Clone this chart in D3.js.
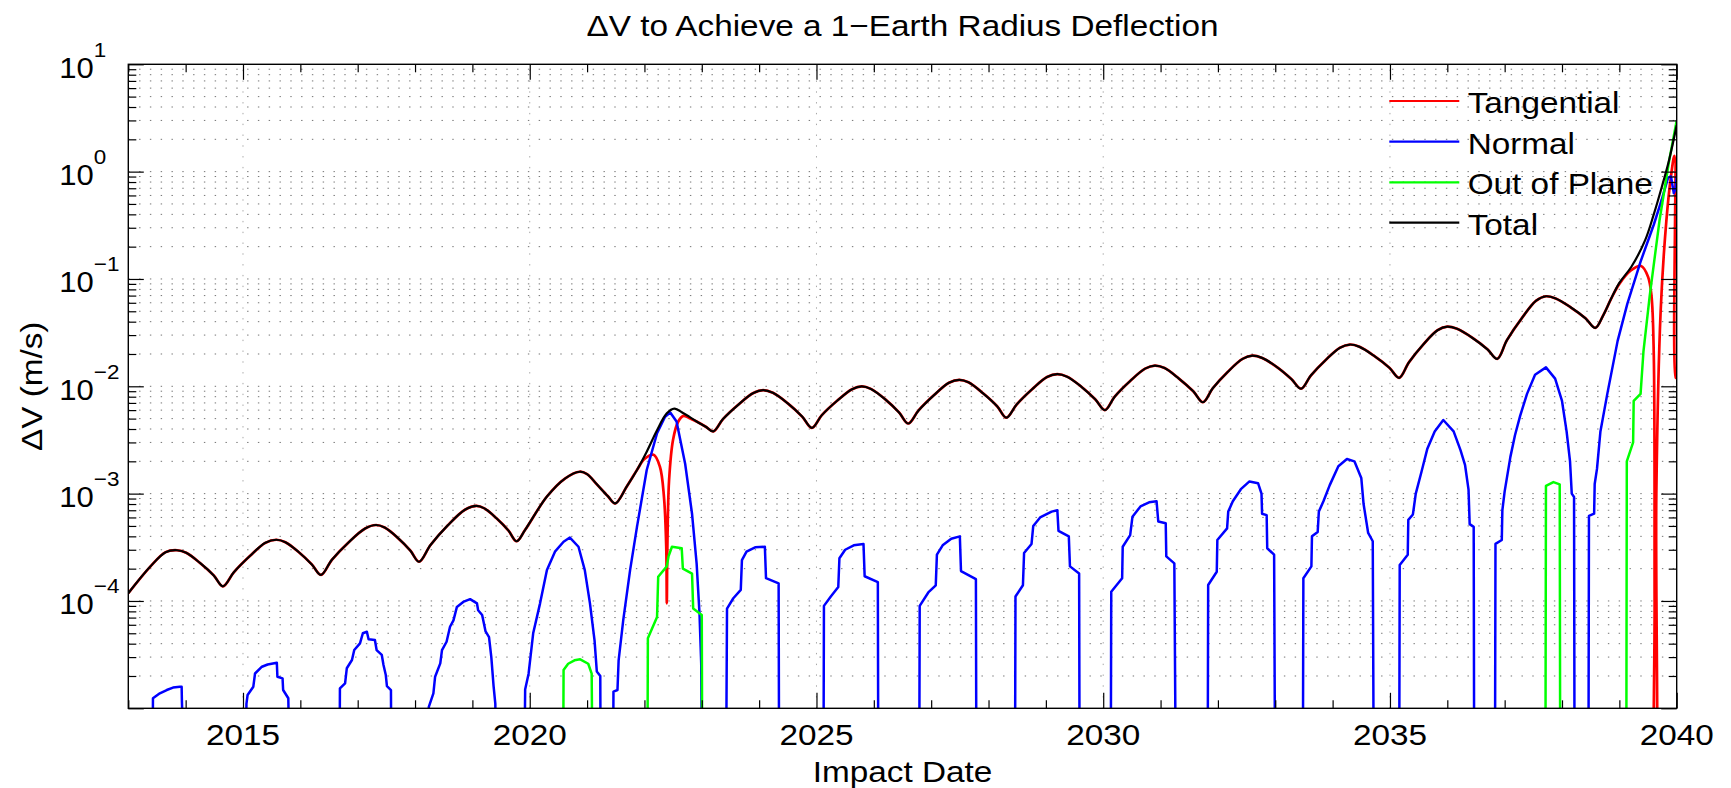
<!doctype html>
<html>
<head>
<meta charset="utf-8">
<script src="https://cdn.jsdelivr.net/npm/d3@7"></script>
<style>
  body { margin: 0; background: #fff; }
  svg text { font-family: "Liberation Sans", Arial, Helvetica, sans-serif; fill: #000; }
  .grid line { stroke: #000; stroke-opacity: .55; stroke-width: 1; stroke-dasharray: 1.4 9.4; }
  .ticks path { display: none; }
  .ticks line { stroke: #000; stroke-width: 1.2; }
  .series { fill: none; stroke-linejoin: round; }
</style>
</head>
<body>
<svg id="chart"></svg>
<script>

// ---- data: [year, dV (m/s)] ----
const totalPts = [
  [2013.0,1.18e-4],[2013.38,2.08e-4],[2013.65,2.85e-4],[2013.85,2.97e-4],
  [2014.01,2.81e-4],[2014.25,2.26e-4],[2014.49,1.73e-4],[2014.65,1.37e-4],
  [2014.84,1.85e-4],[2015.12,2.62e-4],[2015.39,3.48e-4],[2015.58,3.72e-4],
  [2015.74,3.53e-4],[2015.97,2.86e-4],[2016.2,2.19e-4],[2016.36,1.75e-4],
  [2016.55,2.42e-4],[2016.84,3.51e-4],[2017.13,4.73e-4],[2017.32,5.1e-4],
  [2017.47,4.83e-4],[2017.7,3.87e-4],[2017.92,2.94e-4],[2018.07,2.32e-4],
  [2018.27,3.32e-4],[2018.57,5.06e-4],[2018.87,7.08e-4],[2019.07,7.7e-4],
  [2019.21,7.29e-4],[2019.42,5.89e-4],[2019.63,4.52e-4],[2019.77,3.6e-4],
  [2019.92,4.6e-4],[2020.3,9.4e-4],[2020.62,1.39e-3],[2020.87,1.6e-3],
  [2021.0,1.52e-3],[2021.17,1.22e-3],[2021.36,9.5e-4],[2021.49,8.1e-4],
  [2021.69,1.16e-3],[2021.87,1.66e-3],[2022.04,2.46e-3],[2022.22,3.9e-3],[2022.39,5.6e-3],[2022.52,6.2e-3],
  [2022.68,5.6e-3],[2022.91,4.7e-3],[2023.07,4.2e-3],[2023.2,3.8e-3],
  [2023.37,4.95e-3],[2023.64,6.76e-3],[2023.9,8.65e-3],[2024.07,9.2e-3],
  [2024.24,8.69e-3],[2024.5,6.93e-3],[2024.75,5.22e-3],[2024.92,4.1e-3],
  [2025.09,5.36e-3],[2025.36,7.33e-3],[2025.62,9.4e-3],[2025.79,1.0e-2],
  [2025.95,9.46e-3],[2026.2,7.56e-3],[2026.44,5.71e-3],[2026.6,4.5e-3],
  [2026.78,5.96e-3],[2027.05,8.28e-3],[2027.31,1.08e-2],[2027.49,1.15e-2],
  [2027.65,1.09e-2],[2027.9,8.65e-3],[2028.15,6.52e-3],[2028.31,5.1e-3],
  [2028.49,6.76e-3],[2028.76,9.38e-3],[2029.02,1.22e-2],[2029.2,1.3e-2],
  [2029.37,1.23e-2],[2029.62,9.9e-3],[2029.86,7.57e-3],[2030.03,6.0e-3],
  [2030.2,8.0e-3],[2030.47,1.12e-2],[2030.73,1.46e-2],[2030.9,1.56e-2],
  [2031.07,1.48e-2],[2031.32,1.18e-2],[2031.57,8.99e-3],[2031.74,7.1e-3],
  [2031.91,9.59e-3],[2032.17,1.36e-2],[2032.43,1.8e-2],[2032.6,1.93e-2],
  [2032.77,1.84e-2],[2033.03,1.51e-2],[2033.28,1.17e-2],[2033.45,9.5e-3],
  [2033.62,1.26e-2],[2033.88,1.76e-2],[2034.13,2.29e-2],[2034.3,2.45e-2],
  [2034.47,2.33e-2],[2034.73,1.91e-2],[2034.99,1.49e-2],[2035.16,1.2e-2],
  [2035.33,1.67e-2],[2035.58,2.45e-2],[2035.83,3.33e-2],[2036.0,3.6e-2],
  [2036.17,3.43e-2],[2036.44,2.82e-2],[2036.7,2.21e-2],[2036.87,1.8e-2],
  [2037.04,2.69e-2],[2037.3,4.32e-2],[2037.55,6.28e-2],[2037.72,6.9e-2],
  [2037.89,6.58e-2],[2038.15,5.45e-2],[2038.41,4.3e-2],[2038.58,3.5e-2],
  [2038.72,4.6e-2],[2038.86,6.6e-2],[2039.0,9.2e-2],[2039.21,0.13],[2039.45,0.23],
  [2039.6,0.4],[2039.74,0.72],[2039.87,1.3],[2040,2.7]
];

// tangential follows the total except in these two stretches
const tangentialSplit = [[2021.9, 2022.85], [2038.95, 2040.1]];
const tangentialOwn = [
  [2022.0,2.1e-3],[2022.16,2.3e-3],[2022.27,1.78e-3],[2022.34,9.4e-4],[2022.38,3.2e-4],[2022.39,9.5e-5],
  [2022.4,3.2e-4],[2022.43,1.34e-3],[2022.5,3.2e-3],[2022.59,4.7e-3],[2022.68,5.3e-3],[2022.77,5.1e-3],
  [2039.0,0.09],[2039.2,0.12],[2039.38,0.132],[2039.5,0.105],[2039.56,0.07],[2039.6,0.02],[2039.615,1e-4],
  [2039.62,1e-6],[2039.63,1e-6],[2039.645,1e-3],[2039.72,0.05],[2039.82,0.35],[2039.9,0.9],[2039.96,1.4],
  [2039.985,1.2e-2],[2040,1.2e-2]
];

// 1e-6 = below the bottom of the axes
const normalPts = [
  [2013.42,1e-6],[2013.43,1.24e-5],[2013.55,1.38e-5],[2013.67,1.48e-5],[2013.78,1.56e-5],[2013.9,1.59e-5],[2013.93,1.59e-5],[2013.935,1.15e-5],[2014.0,1e-6],
  [2015.05,1e-6],[2015.06,1.1e-5],[2015.08,1.33e-5],[2015.18,1.59e-5],[2015.21,2.11e-5],[2015.33,2.44e-5],[2015.43,2.56e-5],[2015.59,2.66e-5],
  [2015.6,1.97e-5],[2015.69,1.9e-5],[2015.7,1.48e-5],[2015.79,1.24e-5],[2015.83,1e-6],
  [2016.68,1e-6],[2016.69,1.53e-5],[2016.78,1.71e-5],[2016.81,2.36e-5],[2016.9,2.82e-5],[2016.94,3.49e-5],[2017.04,4.03e-5],[2017.09,5.0e-5],
  [2017.16,5.17e-5],[2017.19,4.4e-5],[2017.3,4.33e-5],[2017.33,3.49e-5],[2017.42,3.14e-5],[2017.45,2.53e-5],[2017.49,2.04e-5],
  [2017.51,1.61e-5],[2017.58,1.48e-5],[2017.59,1e-6],
  [2018.23,1e-6],[2018.24,1.03e-5],[2018.32,1.38e-5],[2018.35,1.97e-5],[2018.44,2.62e-5],[2018.47,3.49e-5],[2018.55,4.17e-5],
  [2018.61,5.75e-5],[2018.67,6.6e-5],[2018.73,8.8e-5],[2018.84,9.8e-5],[2018.96,1.04e-4],[2019.08,9.5e-5],[2019.1,8.2e-5],
  [2019.17,7.4e-5],[2019.23,5.2e-5],[2019.29,4.6e-5],[2019.33,3.0e-5],[2019.37,1.6e-5],[2019.4,1.1e-5],[2019.42,1e-6],
  [2019.9,1e-6],[2019.92,1.5e-5],[2019.98,2.1e-5],[2020.06,5.0e-5],[2020.18,9.5e-5],[2020.3,1.94e-4],[2020.44,2.88e-4],
  [2020.59,3.56e-4],[2020.7,3.9e-4],[2020.85,3.2e-4],[2020.96,1.94e-4],[2021.05,9.5e-5],[2021.13,4.3e-5],[2021.17,2.2e-5],
  [2021.23,2.0e-5],[2021.24,1e-6],
  [2021.45,1e-6],[2021.46,1.43e-5],[2021.53,1.48e-5],[2021.55,2.8e-5],[2021.63,6.6e-5],[2021.75,1.94e-4],[2021.87,4.9e-4],
  [2022.04,1.66e-3],[2022.22,3.65e-3],[2022.36,5.2e-3],[2022.45,5.7e-3],[2022.56,4.7e-3],[2022.71,1.9e-3],[2022.83,6.5e-4],
  [2022.91,2.24e-4],[2022.96,7.7e-5],[2022.99,2.6e-5],[2023.01,1e-6],
  [2023.42,1e-6],[2023.44,8.5e-5],[2023.55,1.06e-4],[2023.68,1.27e-4],[2023.7,2.4e-4],[2023.78,2.88e-4],[2023.93,3.16e-4],
  [2024.1,3.2e-4],[2024.12,1.63e-4],[2024.34,1.46e-4],[2024.35,1e-6],
  [2025.12,1e-6],[2025.13,9e-5],[2025.25,1.1e-4],[2025.38,1.35e-4],[2025.4,2.5e-4],[2025.5,3.0e-4],[2025.65,3.3e-4],
  [2025.82,3.4e-4],[2025.84,1.7e-4],[2026.07,1.5e-4],[2026.08,1e-6],
  [2026.79,1e-6],[2026.8,9e-5],[2026.95,1.2e-4],[2027.08,1.4e-4],[2027.1,2.7e-4],[2027.2,3.3e-4],[2027.35,3.8e-4],
  [2027.5,4.0e-4],[2027.52,1.9e-4],[2027.78,1.6e-4],[2027.79,1e-6],
  [2028.46,1e-6],[2028.47,1.1e-4],[2028.6,1.4e-4],[2028.62,2.8e-4],[2028.75,3.4e-4],[2028.78,5.0e-4],[2028.9,6.0e-4],
  [2029.1,6.8e-4],[2029.2,7.0e-4],[2029.22,4.5e-4],[2029.4,4.0e-4],[2029.42,2.1e-4],[2029.58,1.8e-4],[2029.59,1e-6],
  [2030.13,1e-6],[2030.14,1.22e-4],[2030.33,1.63e-4],[2030.34,3.2e-4],[2030.47,4.1e-4],[2030.51,6.1e-4],[2030.65,7.6e-4],
  [2030.8,8.3e-4],[2030.93,8.5e-4],[2030.96,5.5e-4],[2031.09,5.3e-4],[2031.1,2.6e-4],[2031.24,2.24e-4],[2031.27,1e-6],
  [2031.82,1e-6],[2031.83,1.41e-4],[2031.98,1.87e-4],[2031.99,3.7e-4],[2032.16,4.75e-4],[2032.18,6.8e-4],[2032.26,8.5e-4],
  [2032.4,1.1e-3],[2032.55,1.3e-3],[2032.7,1.25e-3],[2032.76,1.0e-3],[2032.77,6.5e-4],[2032.85,6.3e-4],[2032.86,3.1e-4],
  [2032.98,2.7e-4],[2033.0,1e-6],
  [2033.48,1e-6],[2033.49,1.63e-4],[2033.63,2.1e-4],[2033.64,4.0e-4],[2033.74,4.4e-4],[2033.76,6.8e-4],[2033.84,8.5e-4],
  [2033.95,1.2e-3],[2034.1,1.8e-3],[2034.25,2.1e-3],[2034.38,2.0e-3],[2034.5,1.4e-3],[2034.54,8.0e-4],[2034.62,4.3e-4],
  [2034.7,3.6e-4],[2034.72,1e-6],
  [2035.16,1e-6],[2035.17,2.16e-4],[2035.31,2.7e-4],[2035.32,5.7e-4],[2035.4,6.4e-4],[2035.45,1.0e-3],[2035.55,1.6e-3],
  [2035.65,2.6e-3],[2035.78,3.8e-3],[2035.93,4.85e-3],[2036.11,3.8e-3],[2036.23,2.54e-3],[2036.31,1.84e-3],[2036.37,1.09e-3],
  [2036.39,5.2e-4],[2036.46,4.9e-4],[2036.47,1e-6],
  [2036.83,1e-6],[2036.84,3.4e-4],[2036.95,3.7e-4],[2036.96,7.0e-4],[2037.0,1.05e-3],[2037.1,2.2e-3],[2037.18,3.5e-3],
  [2037.27,5.3e-3],[2037.39,8.5e-3],[2037.53,1.28e-2],[2037.72,1.5e-2],[2037.88,1.18e-2],[2038.0,7.3e-3],[2038.08,3.8e-3],
  [2038.14,2.0e-3],[2038.17,1.0e-3],[2038.21,9.3e-4],[2038.22,1e-6],
  [2038.46,1e-6],[2038.47,6.2e-4],[2038.56,6.5e-4],[2038.57,1.23e-3],[2038.61,1.7e-3],[2038.67,3.8e-3],[2038.79,8.5e-3],
  [2038.97,2.65e-2],[2039.14,5.9e-2],[2039.37,0.145],[2039.6,0.32],[2039.74,0.55],[2039.85,0.88],[2039.9,0.9],
  [2039.95,0.63],[2039.98,0.7],[2040,0.9]
];

const outOfPlanePts = [
  [2020.58,1e-6],[2020.59,2.28e-5],[2020.67,2.6e-5],[2020.78,2.8e-5],[2020.88,2.86e-5],[2021.02,2.6e-5],[2021.08,2.1e-5],[2021.1,1e-6],
  [2022.05,1e-6],[2022.06,4.5e-5],[2022.22,7.1e-5],[2022.24,1.68e-4],[2022.39,2.1e-4],[2022.42,2.6e-4],[2022.48,3.2e-4],
  [2022.65,3.1e-4],[2022.67,2.0e-4],[2022.83,1.8e-4],[2022.85,8.5e-5],[2023.0,7.4e-5],[2023.01,1e-6],
  [2037.71,1e-6],[2037.72,1.18e-3],[2037.85,1.28e-3],[2037.96,1.22e-3],[2037.97,1e-6],
  [2039.12,1e-6],[2039.13,2.0e-3],[2039.24,3.0e-3],[2039.25,7.3e-3],[2039.37,8.5e-3],[2039.42,2.1e-2],[2039.53,0.07],
  [2039.7,0.35],[2039.87,1.28],[2040,3.0]
];

const seriesNames = ["Tangential", "Normal", "Out of Plane", "Total"];
const seriesColors = ["#ff0000", "#0000ff", "#00ff00", "#000000"];

const xMajorTicks = [2015, 2020, 2025, 2030, 2035, 2040];
const yLabelExps = [-4, -3, -2, -1, 0, 1];
const yDecadeExps = [-5, -4, -3, -2, -1, 0, 1];

const titleText = "\u0394V to Achieve a 1\u2212Earth Radius Deflection";
const xTitle = "Impact Date";
const yTitle = "\u0394V (m/s)";

// ---- layout ----
const W = 1731, H = 788;
const L = 128.3, R = 1676.7, T = 64.3, B = 708.3;
const SX = 1.11;   // source font is wider than Liberation Sans

const svg = d3.select("#chart").attr("width", W).attr("height", H);

const x = d3.scaleLinear().domain([2013, 2040]).range([L, R]);
const y = d3.scaleLog().domain([1e-5, 10]).range([B, T]);

const decades = yDecadeExps.map(e => Math.pow(10, e));
const minorY = [];
yDecadeExps.slice(0, -1).forEach(e => {
  for (let m = 2; m <= 9; m++) minorY.push(m * Math.pow(10, e));
});
const minorX = d3.range(2013, 2041).filter(v => xMajorTicks.indexOf(v) < 0);

svg.append("defs").append("clipPath").attr("id", "plotclip")
  .append("rect").attr("x", L).attr("y", T).attr("width", R - L).attr("height", B - T);

// grid
const grid = svg.append("g").attr("class", "grid");
grid.selectAll(".hg")
  .data(minorY.concat(decades.slice(1, -1)))
  .enter().append("line")
    .attr("x1", L).attr("x2", R)
    .attr("y1", d => y(d)).attr("y2", d => y(d));
grid.selectAll(".vg")
  .data(xMajorTicks.slice(0, -1))
  .enter().append("line")
    .attr("y1", B).attr("y2", T)
    .attr("x1", d => x(d)).attr("x2", d => x(d))
    .style("stroke-opacity", .35);

// series
const curved = d3.line().x(d => x(d[0])).y(d => y(d[1])).curve(d3.curveCatmullRom.alpha(0.5));
const straight = d3.line().x(d => x(d[0])).y(d => y(d[1]));

const inSplit = yr => tangentialSplit.some(s => yr >= s[0] && yr <= s[1]);
const tangentialPts = totalPts.filter(d => !inSplit(d[0]))
  .concat(tangentialOwn)
  .sort((a, b) => a[0] - b[0]);

const plot = svg.append("g").attr("clip-path", "url(#plotclip)");
plot.append("path").attr("class", "series").attr("d", curved(tangentialPts))
  .attr("stroke", seriesColors[0]).attr("stroke-width", 2.7);
plot.append("path").attr("class", "series").attr("d", straight(normalPts))
  .attr("stroke", seriesColors[1]).attr("stroke-width", 2.5);
plot.append("path").attr("class", "series").attr("d", straight(outOfPlanePts))
  .attr("stroke", seriesColors[2]).attr("stroke-width", 2.5);
plot.append("path").attr("class", "series").attr("d", curved(totalPts))
  .attr("stroke", seriesColors[3]).attr("stroke-width", 2.2);

// ticks (inward, on all four sides)
function ticks(axis, tx, ty) {
  svg.append("g").attr("class", "ticks")
    .attr("transform", "translate(" + tx + "," + ty + ")")
    .call(axis);
}
ticks(d3.axisLeft(y).tickValues(minorY).tickSize(-8).tickFormat(""), L, 0);
ticks(d3.axisLeft(y).tickValues(decades).tickSize(-15.5).tickFormat(""), L, 0);
ticks(d3.axisRight(y).tickValues(minorY).tickSize(-8).tickFormat(""), R, 0);
ticks(d3.axisRight(y).tickValues(decades).tickSize(-15.5).tickFormat(""), R, 0);
ticks(d3.axisBottom(x).tickValues(minorX).tickSize(-8).tickFormat(""), 0, B);
ticks(d3.axisBottom(x).tickValues(xMajorTicks).tickSize(-15.5).tickFormat(""), 0, B);
ticks(d3.axisTop(x).tickValues(minorX).tickSize(-8).tickFormat(""), 0, T);
ticks(d3.axisTop(x).tickValues(xMajorTicks).tickSize(-15.5).tickFormat(""), 0, T);

svg.append("rect")
  .attr("x", L).attr("y", T).attr("width", R - L).attr("height", B - T)
  .attr("fill", "none").attr("stroke", "#000").attr("stroke-width", 1.4);

// text helper: horizontally stretched label
function label(px, py, str, size, anchor, rot) {
  const g = svg.append("g")
    .attr("transform", "translate(" + px + "," + py + ")" + (rot ? " rotate(" + rot + ")" : "") + " scale(" + SX + ",1)");
  return g.append("text").attr("font-size", size).attr("text-anchor", anchor || "start").text(str);
}

// x tick labels
xMajorTicks.forEach(v => label(x(v), 745, String(v), 30, "middle"));

// y tick labels 10^n
yLabelExps.forEach(e => {
  const g = svg.append("g")
    .attr("transform", "translate(59.3," + (y(Math.pow(10, e)) + 13.5) + ") scale(1.07,1)");
  const t = g.append("text").attr("font-size", 29);
  t.append("tspan").text("10");
  t.append("tspan").attr("font-size", 21).attr("dy", -21)
    .text(e < 0 ? "\u2212" + (-e) : String(e));
});

label((L + R) / 2, 35.5, titleText, 30, "middle");
label((L + R) / 2, 782, xTitle, 30, "middle");
label(42, (T + B) / 2, yTitle, 30, "middle", -90);

// legend
const legendRows = [101, 141.7, 182.3, 222.7];
seriesNames.forEach((name, i) => {
  svg.append("line")
    .attr("x1", 1389.3).attr("x2", 1459.3)
    .attr("y1", legendRows[i]).attr("y2", legendRows[i])
    .attr("stroke", seriesColors[i]).attr("stroke-width", 2.2);
  label(1467.7, legendRows[i] + 11.8, name, 30, "start");
});

</script>
</body>
</html>
